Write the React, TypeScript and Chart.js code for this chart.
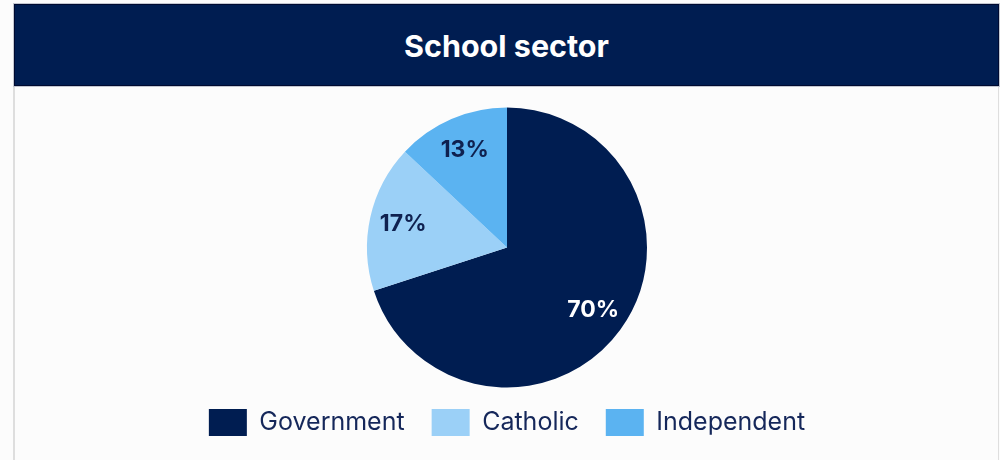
import React, { useEffect, useRef } from "react";
import { Chart, registerables } from "chart.js";

Chart.register(...registerables);

const TITLE = "School sector";
const CATEGORIES = ["Government", "Catholic", "Independent"];
const VALUES = [70, 17, 13];
const COLORS = ["#001d51", "#9bd0f7", "#5bb3f1"];
const LABEL_COLORS = ["#ffffff", "#0f2150", "#0f2150"];

const NAVY = "#001d51";
const FONT = "Inter, 'Noto Sans', sans-serif";

const sliceLabels = {
  id: "sliceLabels",
  afterDatasetsDraw(chart: any) {
    const ctx = chart.ctx;
    const meta = chart.getDatasetMeta(0);
    const total = VALUES.reduce((a, b) => a + b, 0);
    meta.data.forEach((arc: any, i: number) => {
      const p = arc.getProps(["x", "y", "startAngle", "endAngle", "outerRadius"], true);
      const mid = (p.startAngle + p.endAngle) / 2;
      const d = p.outerRadius * 0.76;
      const x = p.x + Math.cos(mid) * d;
      const y = p.y + Math.sin(mid) * d;
      ctx.save();
      ctx.font = `bold 23px ${FONT}`;
      ctx.fillStyle = LABEL_COLORS[i];
      ctx.textAlign = "center";
      ctx.textBaseline = "middle";
      ctx.fillText(Math.round((VALUES[i] / total) * 100) + "%", x, y);
      ctx.restore();
    });
  },
};

export default function App() {
  const ref = useRef<HTMLCanvasElement | null>(null);

  useEffect(() => {
    if (!ref.current) return;
    const chart = new Chart(ref.current, {
      type: "pie",
      data: {
        labels: CATEGORIES,
        datasets: [
          {
            data: VALUES,
            backgroundColor: COLORS,
            borderWidth: 0,
          },
        ],
      },
      options: {
        responsive: false,
        animation: false,
        radius: 140,
        layout: { padding: { top: 27, bottom: 0, left: 0, right: 0 } },
        plugins: {
          legend: {
            position: "bottom",
            labels: {
              boxWidth: 38,
              boxHeight: 27,
              padding: 27,
              color: "#15275a",
              font: { family: FONT, size: 25, weight: "normal" },
            },
          },
          tooltip: { enabled: false },
        },
      } as any,
      plugins: [sliceLabels],
    });
    return () => chart.destroy();
  }, []);

  return (
    <div
      style={{
        position: "fixed",
        left: 0,
        top: 0,
        width: 1000,
        height: 460,
        overflow: "hidden",
        background: "#fcfcfc",
        fontFamily: FONT,
      }}
    >
      <div
        style={{
          position: "absolute",
          left: 13,
          top: 86,
          width: 986,
          height: 400,
          borderLeft: "2px solid #dedede",
          borderRight: "1px solid #dedede",
          boxSizing: "border-box",
        }}
      />
      <div
        style={{
          position: "absolute",
          left: 13,
          top: 3,
          width: 987,
          height: 84,
          boxSizing: "border-box",
          border: "1px solid #c3c7d1",
          background: NAVY,
          boxShadow: "inset 0 0 0 1px #000a30",
          display: "flex",
          alignItems: "center",
          justifyContent: "center",
          color: "#ffffff",
          fontWeight: 700,
          fontSize: 30.5,
        }}
      >
        {TITLE}
      </div>
      <canvas
        ref={ref}
        width={984}
        height={360}
        style={{ position: "absolute", left: 15, top: 86, width: 984, height: 360 }}
      />
    </div>
  );
}
